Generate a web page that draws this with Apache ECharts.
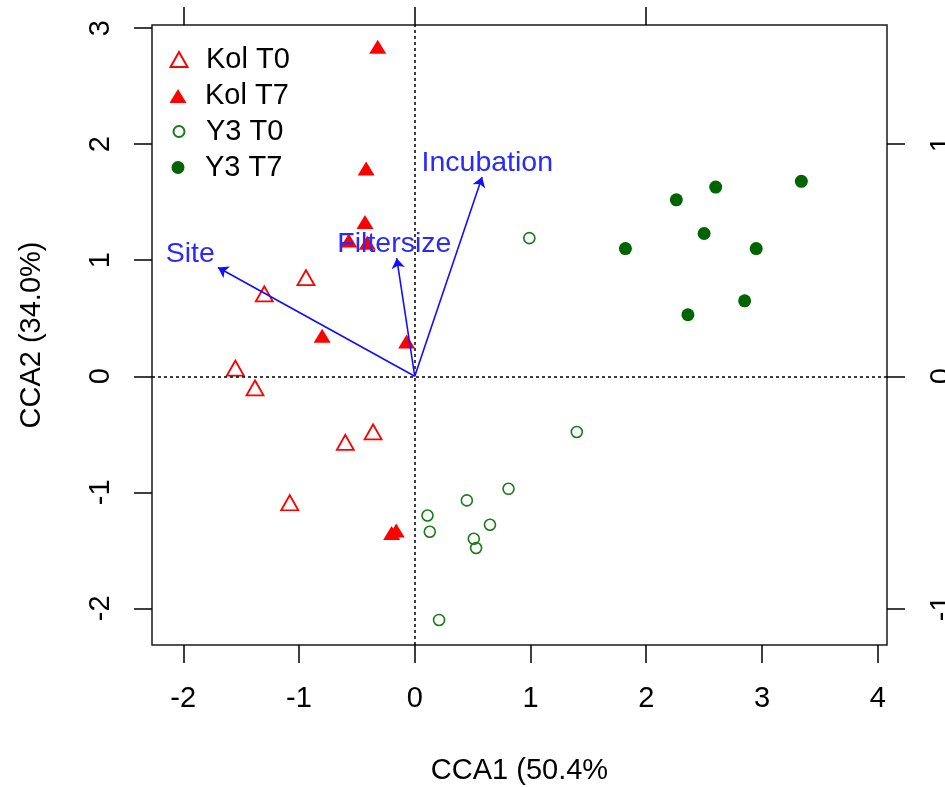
<!DOCTYPE html>
<html>
<head>
<meta charset="utf-8">
<title>CCA biplot</title>
<script src="https://cdn.jsdelivr.net/npm/echarts@6/dist/echarts.min.js"></script>
<style>
  html, body { margin: 0; padding: 0; background: #ffffff; }
  #chart { width: 945px; height: 787px; }
</style>
</head>
<body>
<div id="chart"></div>
<script>
// ---- Site scores (CCA1, CCA2) per group ----
const kolT0 = [[-1.30, 0.71], [-0.94, 0.85], [-1.55, 0.07], [-1.38, -0.10], [-0.60, -0.57], [-0.36, -0.48], [-1.08, -1.09]];
const kolT7 = [[-0.32, 2.84], [-0.42, 1.79], [-0.43, 1.33], [-0.57, 1.17], [-0.41, 1.15], [-0.80, 0.35], [-0.07, 0.30], [-0.20, -1.35], [-0.16, -1.33]];
const y3T0 = [[0.99, 1.19], [1.40, -0.48], [0.81, -0.97], [0.45, -1.07], [0.11, -1.20], [0.65, -1.28], [0.13, -1.34], [0.51, -1.40], [0.53, -1.48], [0.21, -2.10]];
const y3T7 = [[3.34, 1.68], [2.60, 1.63], [2.26, 1.52], [2.50, 1.23], [1.82, 1.10], [2.95, 1.10], [2.85, 0.65], [2.36, 0.53]];
const groupNames = ['Kol T0', 'Kol T7', 'Y3 T0', 'Y3 T7'];

// ---- Biplot arrows of the constraining variables ----
const envNames = ['Site', 'Filtersize', 'Incubation'];
const envTips = [[-1.70, 0.937], [-0.156, 1.017], [0.582, 1.718]];

// ---- Axis ticks and titles ----
const xTicks = [-2, -1, 0, 1, 2, 3, 4];
const yTicks = [-2, -1, 0, 1, 2, 3];
const topTicks = [-1, 0, 1];
const rightTicks = [-1, 0, 1];
const xTitle = 'CCA1 (50.4%';
const yTitle = 'CCA2 (34.0%)';

// ---- Layout ----
const FONT = '"Liberation Sans", Arial, Helvetica, sans-serif';
const FS = 29;
const ENV_FS = 28.5;
const GRID = { left: 152, top: 25, width: 735, height: 620 };
const X_MIN = -2.27, X_MAX = 4.08, Y_MIN = -2.316, Y_MAX = 3.027;
const ARROW_SCALE = 2; // secondary (top/right) axes read the biplot scale

// Place each arrow label beyond its tip, the text box touching the arrow's continuation
const measureCtx = document.createElement('canvas').getContext('2d');
measureCtx.font = ENV_FS + 'px ' + FONT;
const pxPerX = GRID.width / (X_MAX - X_MIN);
const pxPerY = GRID.height / (Y_MAX - Y_MIN);
function envLabelOffset(tip, name) {
  const w = measureCtx.measureText(name).width;
  const h = 0.716 * ENV_FS;
  const dx = tip[0] * pxPerX, dy = tip[1] * pxPerY;
  let ox = Math.sign(dx) * (w / 2 + h / 4);
  let oy = 0.75 * h * Math.sign(dy);
  const b = dy / dx;
  const move = oy / b;
  if (isFinite(move) && Math.abs(move) <= Math.abs(ox)) ox = move;
  else oy = b * ox;
  return [ox, -oy + 1.5];
}

const textBase = { fontFamily: FONT, fontSize: FS, color: '#000', lineHeight: FS };
const tickStyle = { color: '#000', width: 1.5 };
const noLine = { show: false, onZero: false };

const hidden = 'rgba(0,0,0,0)';
const groupStyles = [
  { symbol: 'triangle', size: [17, 15], item: { color: hidden, borderColor: '#ff0000', borderWidth: 1.8, opacity: 1 } },
  { symbol: 'triangle', size: [17, 14], item: { color: '#ff0000', opacity: 1 } },
  { symbol: 'circle', size: 11, item: { color: hidden, borderColor: '#1a7a1a', borderWidth: 1.6, opacity: 1 } },
  { symbol: 'circle', size: 13, item: { color: '#006400', opacity: 1 } }
];
const groupData = [kolT0, kolT7, y3T0, y3T7];

const scatterSeries = groupData.map((d, i) => ({
  name: groupNames[i],
  type: 'scatter',
  xAxisIndex: 0, yAxisIndex: 0,
  symbol: groupStyles[i].symbol,
  symbolSize: groupStyles[i].size,
  itemStyle: groupStyles[i].item,
  data: d,
  z: 4
}));

// Legend: one block per group so each key keeps its own symbol size
const legendCentres = [59.5, 96, 131.5, 167.5];
const legends = groupNames.map((n, i) => {
  const sz = groupStyles[i].size;
  const w = Array.isArray(sz) ? sz[0] : sz;
  const h = Array.isArray(sz) ? sz[1] : sz;
  return {
    data: [n],
    orient: 'vertical',
    left: 178 - w / 2,
    top: legendCentres[i] - FS / 2,
    padding: 0,
    itemWidth: w,
    itemHeight: h,
    symbolKeepAspect: false,
    selectedMode: false,
    textStyle: Object.assign({}, textBase, { padding: [0, 0, 0, 22 - w / 2] })
  };
});

const option = {
  animation: false,
  backgroundColor: '#ffffff',
  legend: legends,
  grid: Object.assign({
    show: true, borderColor: '#1a1a1a', borderWidth: 1.5, backgroundColor: 'transparent',
    outerBoundsMode: 'none', containLabel: false
  }, GRID),
  xAxis: [
    {
      type: 'value', position: 'bottom', min: X_MIN, max: X_MAX,
      splitLine: { show: false }, axisLine: noLine,
      axisTick: { show: true, inside: false, length: 18, lineStyle: tickStyle, customValues: xTicks },
      axisLabel: Object.assign({ customValues: xTicks, margin: 39 }, textBase),
      name: xTitle, nameLocation: 'middle', nameGap: 111, nameMoveOverlap: false,
      nameTextStyle: textBase
    },
    {
      type: 'value', position: 'top', min: X_MIN / ARROW_SCALE, max: X_MAX / ARROW_SCALE,
      splitLine: { show: false }, axisLine: noLine,
      axisTick: { show: true, inside: false, length: 18, lineStyle: tickStyle, customValues: topTicks },
      axisLabel: { show: false }
    }
  ],
  yAxis: [
    {
      type: 'value', position: 'left', min: Y_MIN, max: Y_MAX,
      splitLine: { show: false }, axisLine: noLine,
      axisTick: { show: true, inside: false, length: 18, lineStyle: tickStyle, customValues: yTicks },
      axisLabel: Object.assign({ customValues: yTicks, margin: 37, rotate: 90 }, textBase),
      name: yTitle, nameLocation: 'middle', nameRotate: 90, nameGap: 106, nameMoveOverlap: false,
      nameTextStyle: textBase
    },
    {
      type: 'value', position: 'right', min: Y_MIN / ARROW_SCALE, max: Y_MAX / ARROW_SCALE,
      splitLine: { show: false }, axisLine: noLine,
      axisTick: { show: true, inside: false, length: 18, lineStyle: tickStyle, customValues: rightTicks },
      axisLabel: Object.assign({ customValues: rightTicks, margin: 40, rotate: 90 }, textBase)
    }
  ],
  series: [
    {
      name: 'origin lines',
      type: 'scatter',
      xAxisIndex: 0, yAxisIndex: 0,
      data: [],
      z: 2,
      markLine: {
        silent: true,
        symbol: 'none',
        label: { show: false },
        lineStyle: { type: [3, 3], color: '#000', width: 1.5 },
        data: [{ xAxis: 0 }, { yAxis: 0 }]
      }
    }
  ].concat(scatterSeries, [
    {
      name: 'arrows',
      type: 'lines',
      coordinateSystem: 'cartesian2d',
      xAxisIndex: 0, yAxisIndex: 0,
      symbol: ['none', 'arrow'],
      symbolSize: 10,
      lineStyle: { color: '#1010ff', width: 1.6, opacity: 1, curveness: 0 },
      data: envTips.map(t => ({ coords: [[0, 0], t] })),
      z: 5
    },
    {
      name: 'arrow labels',
      type: 'scatter',
      xAxisIndex: 0, yAxisIndex: 0,
      symbol: 'circle',
      symbolSize: 1,
      itemStyle: { color: hidden, opacity: 1 },
      label: {
        show: true, position: 'inside', formatter: '{b}', opacity: 1,
        fontFamily: FONT, fontSize: ENV_FS, color: '#2a2aff'
      },
      data: envTips.map((t, i) => ({
        name: envNames[i],
        value: t,
        label: { offset: envLabelOffset(t, envNames[i]) }
      })),
      z: 6
    }
  ])
};

const chart = echarts.init(document.getElementById('chart'), null, { renderer: 'canvas' });
chart.setOption(option);
</script>
</body>
</html>
